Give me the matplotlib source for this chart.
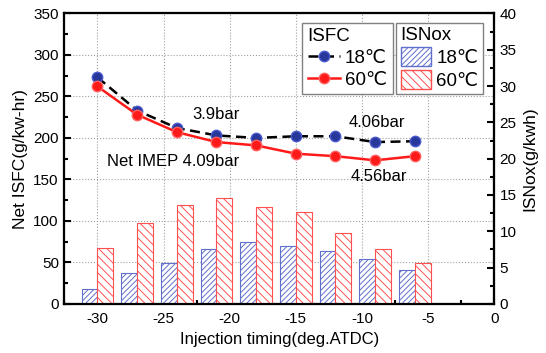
import matplotlib
matplotlib.use('Agg')
import matplotlib.pyplot as plt
from matplotlib.lines import Line2D
from matplotlib.patches import Patch
import numpy as np

plt.rcParams['font.family'] = ['Liberation Sans', 'DejaVu Sans']
plt.rcParams['hatch.linewidth'] = 0.7
plt.rcParams['axes.unicode_minus'] = False

# injection timing (deg ATDC)
timing = [-30, -27, -24, -21, -18, -15, -12, -9, -6]
isfc_18 = [273, 233, 212, 203, 200, 202, 202, 195, 196]
isfc_60 = [262, 228, 207, 195, 191, 181, 178, 173, 178]
isnox_18 = [2.1, 4.2, 5.7, 7.5, 8.5, 8.0, 7.3, 6.2, 4.7]
isnox_60 = [7.7, 11.1, 13.6, 14.6, 13.3, 12.6, 9.7, 7.5, 5.7]

blue_c = '#27379a'
red_c = '#ff1a1a'
bar_blue = '#6070cc'
bar_red = '#ff5050'
hatch_b = '//////'
hatch_r = '\\\\\\\\'
dash = (0, (4, 2.2))

fig = plt.figure(figsize=(5.46, 3.53), dpi=100)
ax = fig.add_axes([0.118, 0.139, 0.787, 0.823])
ax2 = ax.twinx()
ax3 = ax.twinx()
ax.set_zorder(1)
ax2.set_zorder(2)
ax3.set_zorder(3)
ax2.patch.set_visible(False)
ax3.patch.set_visible(False)

x = np.array(timing)
w = 1.2
ax2.bar(x - w / 2, isnox_18, width=w, facecolor='white', edgecolor=bar_blue,
        hatch=hatch_b, linewidth=0.8)
ax2.bar(x + w / 2, isnox_60, width=w, facecolor='white', edgecolor=bar_red,
        hatch=hatch_r, linewidth=0.8)

ax3.plot(x, isfc_18, ls=dash, color='black', lw=1.8,
         marker='o', ms=7.5, mfc=blue_c, mec='#4a5ad0', zorder=3)
ax3.plot(x, isfc_60, ls='-', color=red_c, lw=1.8,
         marker='o', ms=7.5, mfc=red_c, mec='#ff6060', zorder=4)

ax.set_xlim(-32.5, 0)
for a in (ax, ax3):
    a.set_ylim(0, 350)
ax2.set_ylim(0, 40)

ax.set_xticks(range(-30, 1, 5))
ax.set_xticks(np.arange(-32.5, 0, 2.5), minor=True)
ax.set_yticks(range(0, 351, 50))
ax.set_yticks(range(0, 351, 25), minor=True)
ax2.set_yticks(range(0, 41, 5))
ax2.set_yticks(np.arange(0, 40, 2.5), minor=True)
ax3.set_yticks([])

ax.grid(True, ls=':', color='#a0a0a0', lw=0.8)

for a in (ax, ax2):
    a.tick_params(which='major', direction='in', length=5, width=1.5, labelsize=11)
    a.tick_params(which='minor', direction='in', length=3, width=1.5)
ax.tick_params(axis='x', pad=6)
ax.tick_params(axis='y', pad=4)
ax2.tick_params(axis='y', pad=4)
for a in (ax, ax2, ax3):
    for s in a.spines.values():
        s.set_linewidth(1.5)

ax.set_xlabel('Injection timing(deg.ATDC)', fontsize=12)
ax.set_ylabel('Net ISFC(g/kw-hr)', fontsize=12.5)
ax2.set_ylabel('ISNox(g/kwh)', fontsize=12.5)

ax3.text(-21, 228, '3.9bar', fontsize=12, ha='center', va='center')
ax3.text(-24.3, 171, 'Net IMEP 4.09bar', fontsize=12, ha='center', va='center')
ax3.text(-8.9, 218, '4.06bar', fontsize=12, ha='center', va='center')
ax3.text(-8.75, 154, '4.56bar', fontsize=12, ha='center', va='center')

h1 = [Line2D([], [], ls=dash, color='black', lw=1.8, marker='o', ms=7.5,
             mfc=blue_c, mec='#4a5ad0'),
      Line2D([], [], ls='-', color=red_c, lw=1.8, marker='o', ms=7.5,
             mfc=red_c, mec='#ff6060')]
leg1 = ax3.legend(h1, ['18\u2103', '60\u2103'], title='ISFC', loc='upper left',
                  bbox_to_anchor=(302 / 546, 1 - 22.5 / 353), bbox_transform=fig.transFigure,
                  borderaxespad=0, fontsize=13.5, title_fontsize=13.5, fancybox=False,
                  edgecolor='#808080', framealpha=1, handlelength=1.7, handletextpad=0.3,
                  borderpad=0.3, labelspacing=0.25, alignment='left')
ax3.add_artist(leg1)
h2 = [Patch(facecolor='white', edgecolor=bar_blue, hatch=hatch_b),
      Patch(facecolor='white', edgecolor=bar_red, hatch=hatch_r)]
leg2 = ax3.legend(h2, ['18\u2103', '60\u2103'], title='ISNox', loc='upper left',
                  bbox_to_anchor=(396 / 546, 1 - 22.5 / 353), bbox_transform=fig.transFigure,
                  borderaxespad=0, fontsize=13.5, title_fontsize=13.5, fancybox=False,
                  edgecolor='#808080', framealpha=1, handlelength=1.6, handleheight=1.2,
                  handletextpad=0.3, borderpad=0.25, labelspacing=0.15, alignment='left')

fig.savefig('out.png', dpi=100)
